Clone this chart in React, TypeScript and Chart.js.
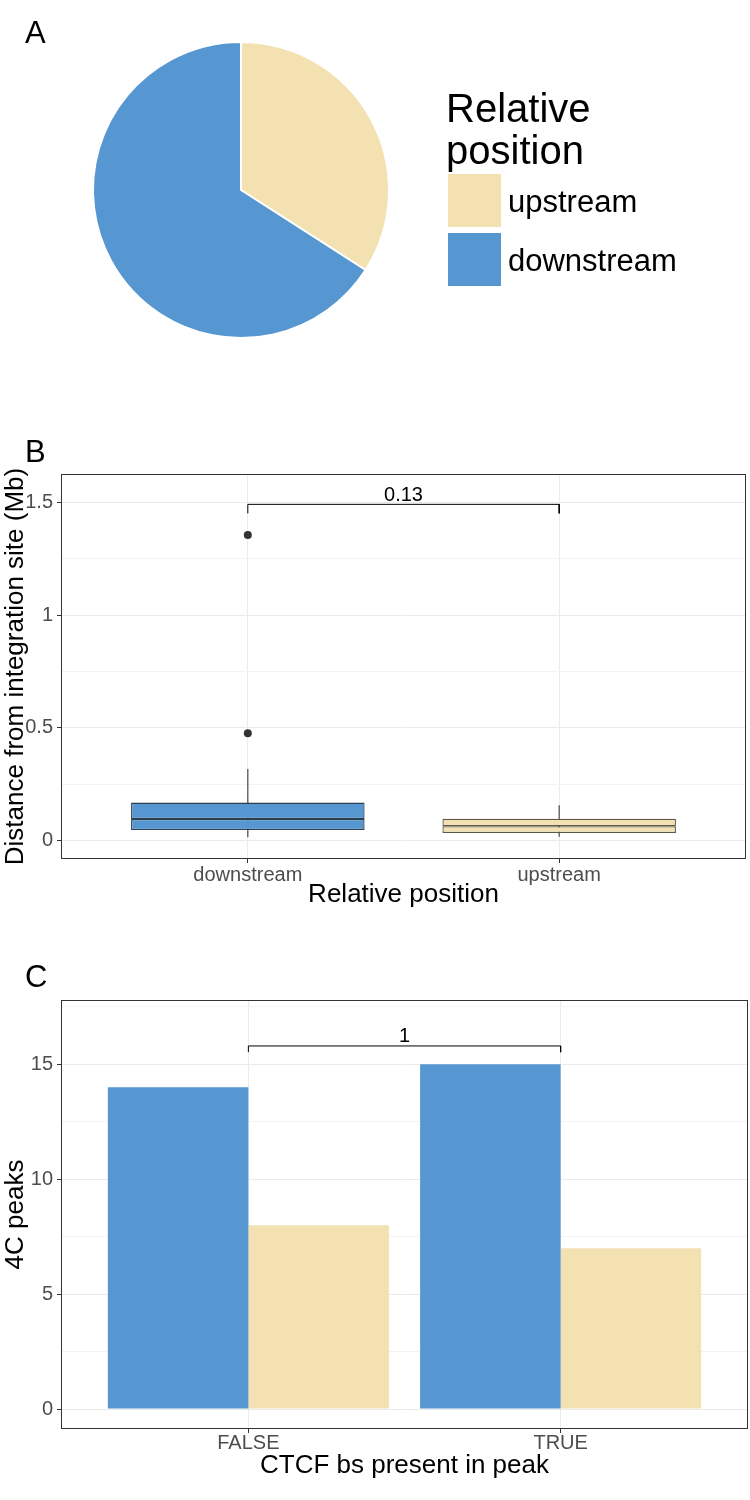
import React, { useEffect, useRef } from "react";
import { Chart, registerables } from "chart.js";

Chart.register(...registerables);

const FONT = "'Liberation Sans', Arial, Helvetica, sans-serif";
const BLUE = "#5697D1";
const BEIGE = "#F3E1B1";
const TICK_GREY = "#4D4D4D";

// ---------- Panel A : pie ----------
const pieLabels = ["upstream", "downstream"];
const pieCounts = [15, 29];
const legendTitleLines = ["Relative", "position"];

// ---------- Panel B : box plot ----------
const boxCategories = ["downstream", "upstream"];
const boxPositions = [1, 2];
const boxQ1 = [0.047, 0.034];
const boxMedian = [0.096, 0.064];
const boxQ3 = [0.169, 0.0975];
const whiskerLow = [0.015, 0.018];
const whiskerHigh = [0.318, 0.157];
const outlierX = [1, 1];
const outlierY = [0.476, 1.355];
const boxYTicks = [0, 0.25, 0.5, 0.75, 1, 1.25, 1.5];
const boxYMajor = [0, 0.5, 1, 1.5];
const boxBracketX = [1, 1, 2, 2];
const boxBracketY = [1.451, 1.491, 1.491, 1.451];
const boxPValue = "0.13";
const boxXTitle = "Relative position";
const boxYTitle = "Distance from integration site (Mb)";

// ---------- Panel C : grouped bars ----------
const barCategories = ["FALSE", "TRUE"];
const barPositions = [1, 2];
const barDownstream = [14, 15];
const barUpstream = [8, 7];
const barYTicks = [0, 2.5, 5, 7.5, 10, 12.5, 15, 17.5];
const barYMajor = [0, 5, 10, 15];
const barBracketX = [1, 1, 2, 2];
const barBracketY = [15.53, 15.8, 15.8, 15.53];
const barPValue = "1";
const barXTitle = "CTCF bs present in peak";
const barYTitle = "4C peaks";

Chart.defaults.font.family = FONT;

const letterPlugin = (letter: string, baseline: number) => ({
  id: "panelLetter",
  afterDraw(chart: any) {
    const ctx = chart.ctx;
    ctx.save();
    ctx.font = `31px ${FONT}`;
    ctx.fillStyle = "#000";
    ctx.textAlign = "left";
    ctx.textBaseline = "alphabetic";
    ctx.fillText(letter, 25, baseline);
    ctx.restore();
  },
});

const borderPlugin = {
  id: "panelBorder",
  afterDatasetsDraw(chart: any) {
    const { ctx, chartArea } = chart;
    ctx.save();
    ctx.strokeStyle = "#333333";
    ctx.lineWidth = 1;
    const l = Math.round(chartArea.left) + 0.5;
    const t = Math.round(chartArea.top) + 0.5;
    const r = Math.round(chartArea.right) - 0.5;
    const b = Math.round(chartArea.bottom) - 0.5;
    ctx.strokeRect(l, t, r - l, b - t);
    ctx.restore();
  },
};

const bracketLabelPlugin = (label: string, xs: number[], ys: number[]) => ({
  id: "bracketLabel",
  afterDatasetsDraw(chart: any) {
    const ctx = chart.ctx;
    const xScale = chart.scales.x;
    const yScale = chart.scales.y;
    const x = xScale.getPixelForValue((xs[0] + xs[xs.length - 1]) / 2);
    const y = yScale.getPixelForValue(Math.max(...ys)) - 3.5;
    ctx.save();
    ctx.font = `20px ${FONT}`;
    ctx.fillStyle = "#000";
    ctx.textAlign = "center";
    ctx.textBaseline = "alphabetic";
    ctx.fillText(label, x, y);
    ctx.restore();
  },
});

const pieLegendPlugin = {
  id: "pieLegend",
  afterDraw(chart: any) {
    const ctx = chart.ctx;
    const ds = chart.data.datasets[0];
    ctx.save();
    ctx.fillStyle = "#000";
    ctx.textAlign = "left";
    ctx.textBaseline = "alphabetic";
    ctx.font = `40px ${FONT}`;
    legendTitleLines.forEach((line, i) => {
      ctx.fillText(line, 446, 122 + i * 42);
    });
    chart.data.labels.forEach((lab: string, i: number) => {
      const top = 174 + i * 59;
      ctx.fillStyle = ds.backgroundColor[i];
      ctx.fillRect(448, top, 53, 53);
      ctx.fillStyle = "#000";
      ctx.font = `31px ${FONT}`;
      ctx.fillText(lab, 508, top + 37.5);
    });
    ctx.restore();
  },
};

function xAxis(labels: string[], positions: number[], title: string, height: number, titlePad: number, tickPad: number) {
  return {
    type: "linear" as const,
    min: 0.4,
    max: 2.6,
    offset: false,
    afterBuildTicks: (s: any) => {
      s.ticks = positions.map((v) => ({ value: v }));
    },
    afterFit: (s: any) => {
      s.height = height;
    },
    ticks: {
      autoSkip: false,
      maxRotation: 0,
      padding: tickPad,
      color: TICK_GREY,
      font: { size: 20 },
      callback: (v: any) => {
        const i = positions.indexOf(Number(v));
        return i >= 0 ? labels[i] : "";
      },
    },
    grid: {
      offset: false,
      color: "#EBEBEB",
      lineWidth: 1,
      drawTicks: true,
      tickLength: 4,
      tickColor: "#333333",
      tickWidth: 1,
    },
    border: { display: false },
    title: {
      display: true,
      text: title,
      color: "#000",
      font: { size: 26 },
      padding: { top: 0, bottom: titlePad },
    },
  };
}

function yAxis(min: number, max: number, tickVals: number[], major: number[], title: string) {
  return {
    type: "linear" as const,
    min,
    max,
    afterBuildTicks: (s: any) => {
      s.ticks = tickVals.map((v) => ({ value: v }));
    },
    afterFit: (s: any) => {
      s.width = 61;
    },
    ticks: {
      autoSkip: false,
      padding: 4,
      color: TICK_GREY,
      font: { size: 20 },
      callback: (v: any) => (major.includes(Number(v)) ? String(v) : ""),
    },
    grid: {
      color: (c: any) => (c.tick && major.includes(c.tick.value) ? "#EBEBEB" : "#F3F3F3"),
      lineWidth: 1,
      drawTicks: true,
      tickLength: 4,
      tickColor: (c: any) => (c.tick && major.includes(c.tick.value) ? "#333333" : "rgba(0,0,0,0)"),
      tickWidth: 1,
    },
    border: { display: false },
    title: {
      display: true,
      text: title,
      color: "#000",
      font: { size: 26 },
      padding: { top: 0, bottom: 0 },
    },
  };
}

export default function App() {
  const refA = useRef<HTMLCanvasElement>(null);
  const refB = useRef<HTMLCanvasElement>(null);
  const refC = useRef<HTMLCanvasElement>(null);

  useEffect(() => {
    const charts: Chart[] = [];

    // Panel A
    charts.push(
      new Chart(refA.current as HTMLCanvasElement, {
        type: "pie",
        data: {
          labels: pieLabels,
          datasets: [
            {
              data: pieCounts,
              backgroundColor: [BEIGE, BLUE],
              borderColor: "#FFFFFF",
              borderWidth: 2,
            },
          ],
        },
        options: {
          responsive: false,
          animation: false,
          events: [],
          layout: { padding: { left: 92, top: 41, right: 360, bottom: 61 } },
          plugins: { legend: { display: false }, tooltip: { enabled: false } },
        },
        plugins: [pieLegendPlugin, letterPlugin("A", 43)],
      } as any)
    );

    // Panel B
    const lowerHalf = boxPositions.map((x, i) => ({ x, y: [boxQ1[i], boxMedian[i]] }));
    const upperHalf = boxPositions.map((x, i) => ({ x, y: [boxMedian[i], boxQ3[i]] }));
    const whiskers: any[] = [];
    boxPositions.forEach((x, i) => {
      if (i > 0) whiskers.push({ x: (boxPositions[i - 1] + x) / 2, y: null });
      whiskers.push({ x, y: whiskerLow[i] });
      whiskers.push({ x, y: whiskerHigh[i] });
    });
    const outliers = outlierX.map((x, i) => ({ x, y: outlierY[i] }));
    const bracketB = boxBracketX.map((x, i) => ({ x, y: boxBracketY[i] }));
    const boxBarStyle = {
      grouped: false,
      barPercentage: 0.75,
      categoryPercentage: 1,
      backgroundColor: [BLUE, BEIGE],
      borderColor: ["#2E3E4E", "#5C5746"],
      borderWidth: 1.3,
      borderSkipped: false,
      inflateAmount: 0,
    };
    charts.push(
      new Chart(refB.current as HTMLCanvasElement, {
        type: "bar",
        data: {
          datasets: [
            { type: "bar", data: upperHalf, order: 0, ...boxBarStyle },
            { type: "bar", data: lowerHalf, order: 1, ...boxBarStyle },
            {
              type: "line",
              data: whiskers,
              order: 2,
              borderColor: "#4A4A4A",
              borderWidth: 1.2,
              pointRadius: 0,
              spanGaps: false,
              fill: false,
            },
            {
              type: "line",
              data: outliers,
              order: 3,
              showLine: false,
              pointRadius: 4,
              pointBackgroundColor: "#333333",
              pointBorderWidth: 0,
            },
            {
              type: "line",
              data: bracketB,
              order: 4,
              borderColor: "#000",
              borderWidth: 1,
              pointRadius: 0,
              fill: false,
            },
          ],
        },
        options: {
          responsive: false,
          animation: false,
          events: [],
          layout: { padding: { left: 0, top: 74, right: 2, bottom: 0 } },
          plugins: { legend: { display: false }, tooltip: { enabled: false } },
          scales: {
            x: xAxis(boxCategories, boxPositions, boxXTitle, 61, 10, 0),
            y: yAxis(-0.081, 1.6255, boxYTicks, boxYMajor, boxYTitle),
          },
        },
        plugins: [borderPlugin, bracketLabelPlugin(boxPValue, boxBracketX, boxBracketY), letterPlugin("B", 62)],
      } as any)
    );

    // Panel C
    const bracketC = barBracketX.map((x, i) => ({ x, y: barBracketY[i] }));
    charts.push(
      new Chart(refC.current as HTMLCanvasElement, {
        type: "bar",
        data: {
          datasets: [
            {
              type: "bar",
              label: "downstream",
              data: barPositions.map((x, i) => ({ x, y: barDownstream[i] })),
              backgroundColor: BLUE,
              borderWidth: 0,
              barPercentage: 1,
              categoryPercentage: 0.9,
              order: 1,
            },
            {
              type: "bar",
              label: "upstream",
              data: barPositions.map((x, i) => ({ x, y: barUpstream[i] })),
              backgroundColor: BEIGE,
              borderWidth: 0,
              barPercentage: 1,
              categoryPercentage: 0.9,
              order: 2,
            },
            {
              type: "line",
              data: bracketC,
              order: 0,
              borderColor: "#000",
              borderWidth: 1,
              pointRadius: 0,
              fill: false,
            },
          ],
        },
        options: {
          responsive: false,
          animation: false,
          events: [],
          layout: { padding: { left: 0, top: 80, right: 2, bottom: 0 } },
          plugins: { legend: { display: false }, tooltip: { enabled: false } },
          scales: {
            x: xAxis(barCategories, barPositions, barXTitle, 71, 19, -2),
            y: yAxis(-0.87, 17.8, barYTicks, barYMajor, barYTitle),
          },
        },
        plugins: [borderPlugin, bracketLabelPlugin(barPValue, barBracketX, barBracketY), letterPlugin("C", 67)],
      } as any)
    );

    return () => charts.forEach((c) => c.destroy());
  }, []);

  const canvasStyle = (top: number, h: number): React.CSSProperties => ({
    position: "absolute",
    left: 0,
    top,
    width: 750,
    height: h,
    display: "block",
  });

  return (
    <div style={{ position: "absolute", left: 0, top: 0, width: 750, height: 1500, background: "#fff" }}>
      <canvas ref={refA} width={750} height={400} style={canvasStyle(0, 400)} />
      <canvas ref={refB} width={750} height={520} style={canvasStyle(400, 520)} />
      <canvas ref={refC} width={750} height={580} style={canvasStyle(920, 580)} />
    </div>
  );
}
